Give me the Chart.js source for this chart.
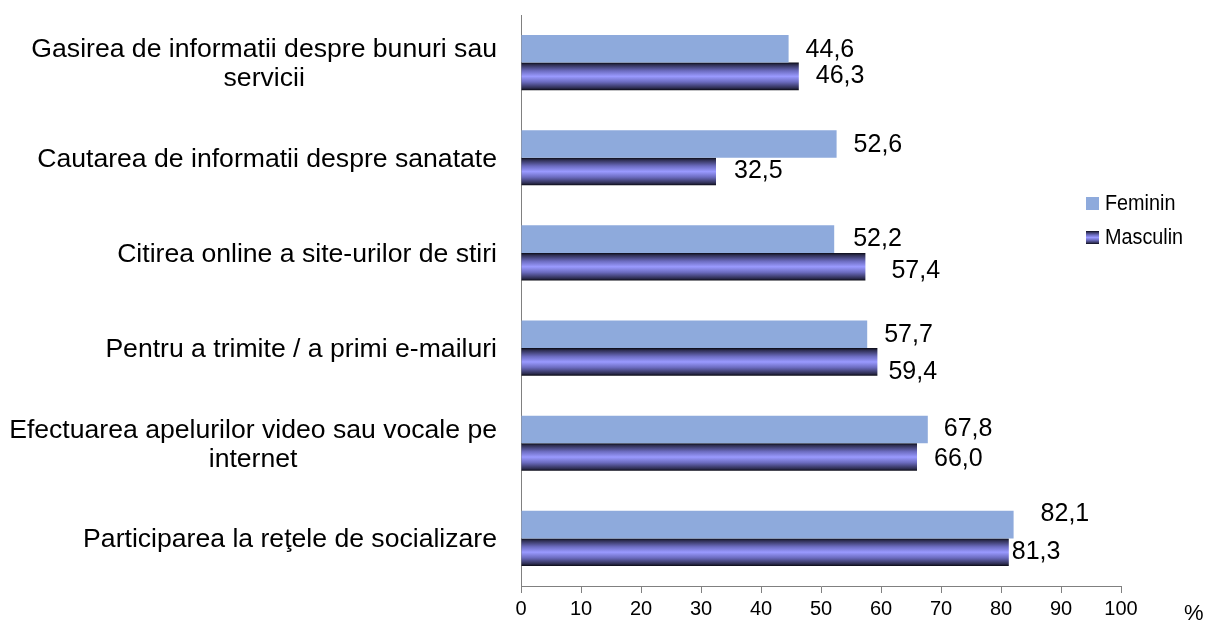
<!DOCTYPE html>
<html>
<head>
<meta charset="utf-8">
<script src="https://cdn.jsdelivr.net/npm/chart.js@4.4.1/dist/chart.umd.min.js"></script>
<style>
  html, body { margin:0; padding:0; background:#fff; }
  #wrap { width:1208px; height:626px; }
</style>
</head>
<body>
<div id="wrap"><canvas id="chart" width="1208" height="626"></canvas></div>
<script>
// Chart data
const categories = [
  ['Gasirea de informatii despre bunuri sau', 'servicii'],
  ['Cautarea de informatii despre sanatate'],
  ['Citirea online a site-urilor de stiri'],
  ['Pentru a trimite / a primi e-mailuri'],
  ['Efectuarea apelurilor video sau vocale pe', 'internet'],
  ['Participarea la reţele de socializare']
];
const feminin = [44.6, 52.6, 52.2, 57.7, 67.8, 82.1];
const masculin = [46.3, 32.5, 57.4, 59.4, 66.0, 81.3];
const seriesNames = ['Feminin', 'Masculin'];
const xTicks = [0, 10, 20, 30, 40, 50, 60, 70, 80, 90, 100];

// label nudges [dx, dy] relative to bar end, as placed in the original
const labelShift = [
  [[17,1],[17,1],[19,0],[17,1],[16,0],[27,-11]],
  [[17,0],[18,0],[26,4],[11,10],[17,2],[3,0]]
];

const FONT = '"Liberation Sans", Arial, sans-serif';
const axisColor = '#808080';
const femColor = '#8eaadc';
const catPct = 0.58;

function mascGradient(ctx, y0, y1){
  const g = ctx.createLinearGradient(0, y0, 0, y1);
  g.addColorStop(0, '#0a0a14');
  g.addColorStop(0.08, '#2e2e52');
  g.addColorStop(0.3, '#6c6cc0');
  g.addColorStop(0.5, '#9a9aff');
  g.addColorStop(0.7, '#6c6cc0');
  g.addColorStop(0.92, '#2e2e52');
  g.addColorStop(1, '#0a0a14');
  return g;
}

function mascFill(c){
  const chart = c.chart;
  const ys = chart.scales && chart.scales.y;
  if(!ys || c.dataIndex === undefined) return '#9999ff';
  const band = (ys.bottom - ys.top) / categories.length;
  const h = band * catPct / 2;
  const center = ys.getPixelForValue(c.dataIndex);
  if(!isFinite(center) || !isFinite(h) || h <= 0) return '#9999ff';
  return mascGradient(chart.ctx, center, center + h);
}

const fmt = v => v.toFixed(1).replace('.', ',');

const extras = {
  id: 'extras',
  afterDatasetsDraw(chart){
    const ctx = chart.ctx;
    ctx.save();
    ctx.font = '25px ' + FONT;
    ctx.fillStyle = '#000';
    ctx.textBaseline = 'middle';
    ctx.textAlign = 'left';
    chart.data.datasets.forEach((ds, di) => {
      const meta = chart.getDatasetMeta(di);
      meta.data.forEach((bar, i) => {
        const s = labelShift[di][i];
        ctx.fillText(fmt(ds.data[i]), bar.x + s[0], bar.y + s[1]);
      });
    });
    ctx.restore();
  },
  afterDraw(chart){
    const ctx = chart.ctx;
    const ys = chart.scales.y;
    ctx.save();
    ctx.font = '26.6px ' + FONT;
    ctx.fillStyle = '#000';
    ctx.textBaseline = 'middle';
    // category labels: block right-aligned, lines centered within block
    const rightEdge = 497, lh = 29;
    categories.forEach((lines, i) => {
      const w = Math.max(...lines.map(l => ctx.measureText(l).width));
      const cx = rightEdge - w / 2;
      const cy = ys.getPixelForValue(i) + 1.5;
      ctx.textAlign = 'center';
      lines.forEach((l, k) => {
        ctx.fillText(l, cx, cy + (k - (lines.length - 1) / 2) * lh);
      });
    });
    // legend (text slightly condensed, like the original)
    const lx = 1086, ly = [203, 237];
    seriesNames.forEach((name, k) => {
      const y = ly[k];
      ctx.fillStyle = k === 0 ? femColor : mascGradient(ctx, y - 6, y + 7);
      ctx.fillRect(lx, y - 6, 13, 13);
      ctx.save();
      ctx.translate(lx + 19, y + 1);
      ctx.scale(0.88, 1);
      ctx.font = '22.5px ' + FONT;
      ctx.fillStyle = '#000';
      ctx.textAlign = 'left';
      ctx.fillText(name, 0, 0);
      ctx.restore();
    });
    // unit
    ctx.font = '22px ' + FONT;
    ctx.fillStyle = '#000';
    ctx.textAlign = 'left';
    ctx.fillText('%', 1184, 614);
    ctx.restore();
  }
};

new Chart(document.getElementById('chart'), {
  type: 'bar',
  data: {
    labels: categories.map(c => c.join(' ')),
    datasets: [
      { label: seriesNames[0], data: feminin, backgroundColor: femColor,
        categoryPercentage: catPct, barPercentage: 1 },
      { label: seriesNames[1], data: masculin, backgroundColor: mascFill,
        categoryPercentage: catPct, barPercentage: 1 }
    ]
  },
  options: {
    indexAxis: 'y',
    responsive: false,
    animation: false,
    events: [],
    layout: { padding: { top: 15, right: 87, left: 0, bottom: 0 } },
    plugins: { legend: { display: false }, tooltip: { enabled: false } },
    scales: {
      x: {
        min: 0, max: 100,
        afterBuildTicks: s => { s.ticks = xTicks.map(v => ({ value: v })); },
        afterFit: s => { s.height = 40; },
        ticks: { color: '#000', font: { family: FONT, size: 20 }, padding: 4, maxRotation: 0 },
        grid: { drawOnChartArea: false, drawTicks: true, tickLength: 7, color: axisColor },
        border: { display: true, color: axisColor, width: 1 }
      },
      y: {
        afterFit: s => { s.width = 521; },
        ticks: { display: false },
        grid: { display: false, drawTicks: false },
        border: { display: true, color: axisColor, width: 1 }
      }
    }
  },
  plugins: [extras]
});
</script>
</body>
</html>
